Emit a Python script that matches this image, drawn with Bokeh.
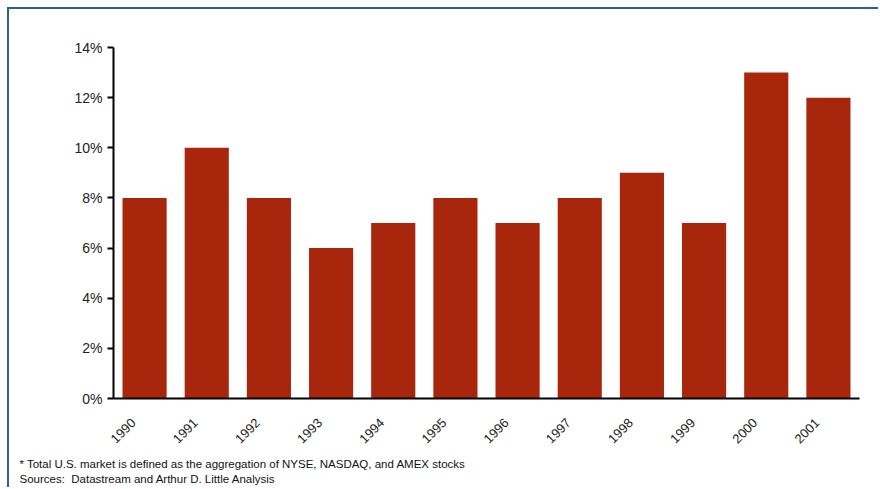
import math
from bokeh.plotting import figure
from bokeh.models import (Range1d, NumeralTickFormatter, FixedTicker,
                          LinearAxis, Title, ColumnDataSource)
from bokeh.embed import file_html
from bokeh.resources import INLINE

years = ["1990", "1991", "1992", "1993", "1994", "1995",
         "1996", "1997", "1998", "1999", "2000", "2001"]
values = [8, 10, 8, 6, 7, 8, 7, 8, 9, 7, 13, 12]  # percent
y_ticks = [0, 2, 4, 6, 8, 10, 12, 14]

footnote = "* Total U.S. market is defined as the aggregation of NYSE, NASDAQ, and AMEX stocks"
sources = "Sources:\u00a0 Datastream and Arthur D. Little Analysis"

FONT = "Liberation Sans"
BAR = "#A8260C"
FRAME = "#2F5C9C"

n = len(years)
slots = [i + 0.5 for i in range(n)]  # centre of each year's slot
src = ColumnDataSource(dict(x=slots, year=years, share=[v / 100 for v in values]))

p = figure(width=871, height=480, output_backend="svg", toolbar_location=None,
           x_range=Range1d(0, n), y_range=(0, 0.14),
           x_axis_location=None,
           min_border_left=104, min_border_right=21, min_border_top=38,
           min_border_bottom=91)
p.vbar(x="x", top="share", width=0.71, source=src, color=BAR, line_color=None)

p.grid.visible = False
p.outline_line_color = None
p.background_fill_color = "white"
p.border_fill_color = "white"

p.yaxis.ticker = FixedTicker(ticks=[t / 100 for t in y_ticks])
p.yaxis.formatter = NumeralTickFormatter(format="0%")
p.yaxis.axis_line_width = 2
p.yaxis.axis_line_color = "black"
p.yaxis.major_tick_line_width = 2
p.yaxis.major_tick_out = 6
p.yaxis.major_tick_in = 0
p.yaxis.minor_tick_line_color = None
p.yaxis.major_label_text_font = FONT
p.yaxis.major_label_text_font_size = "14px"
p.yaxis.major_label_text_color = "#222222"
p.yaxis.major_label_standoff = 5

# year axis on a companion range, nudged so the slanted labels sit
# to the lower left of each bar
shift = 0.18
p.extra_x_ranges = {"years": Range1d(start=shift, end=n + shift)}
xaxis = LinearAxis(x_range_name="years",
                   ticker=FixedTicker(ticks=slots),
                   major_label_overrides={s: y for s, y in zip(slots, years)})
xaxis.axis_line_width = 2
xaxis.axis_line_color = "black"
xaxis.major_tick_line_color = None
xaxis.minor_tick_line_color = None
xaxis.major_label_orientation = math.pi / 4
xaxis.major_label_text_font = FONT
xaxis.major_label_text_font_size = "13px"
xaxis.major_label_text_color = "#222222"
xaxis.major_label_standoff = 16
p.add_layout(xaxis, "below")

# source notes under the axis
for txt, gap in [(footnote, 11), (sources, -9)]:
    p.add_layout(Title(text=txt, align="left", offset=-94, standoff=gap,
                       text_font=FONT, text_font_size="11.5px", text_font_style="normal",
                       text_color="#111111"), "below")

# blue page frame on the top and left
p.styles = {"border-top": f"2px solid {FRAME}", "border-left": f"2px solid {FRAME}",
            "margin-top": "7px", "margin-left": "7px"}

open("out.html", "w").write(file_html(p, INLINE))
